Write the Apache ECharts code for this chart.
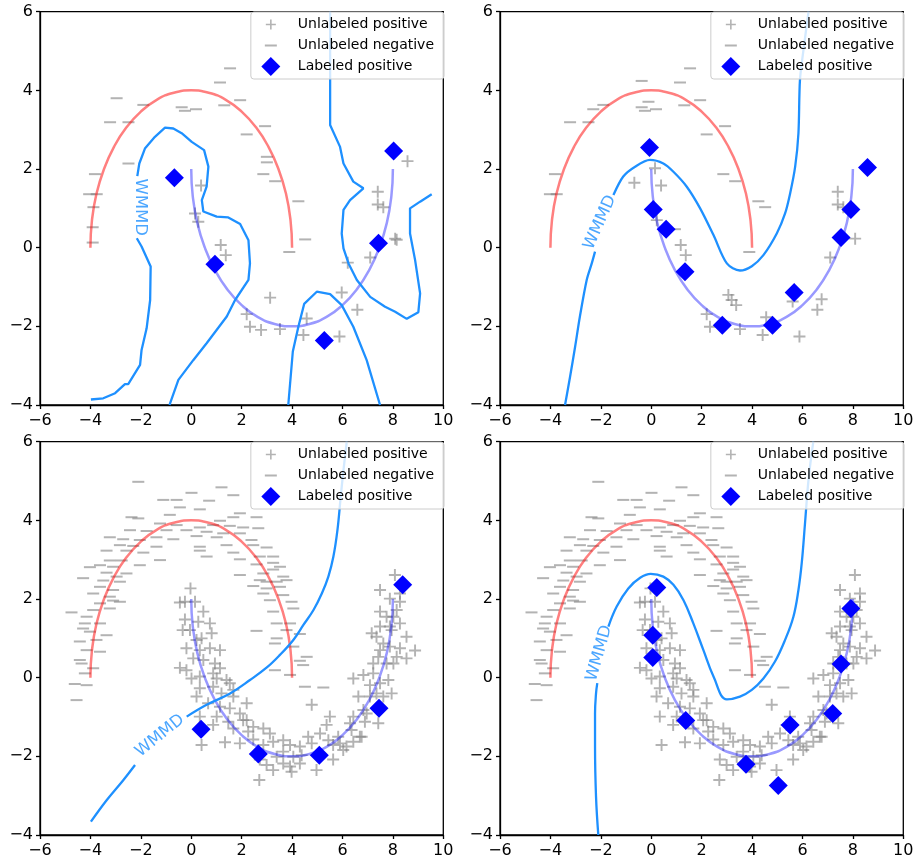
<!DOCTYPE html>
<html>
<head>
<meta charset="utf-8">
<script src="https://cdn.jsdelivr.net/npm/echarts@6/dist/echarts.min.js"></script>
<style>
  html, body { margin: 0; padding: 0; background: #fff; }
  #chart { width: 918px; height: 863px; }
</style>
</head>
<body>
<div id="chart"></div>
<script>
// the two ideal half moons (same in every panel)
const upperMoon = [[-4,0],[-3.94,0.69],[-3.76,1.37],[-3.46,2],[-3.06,2.57],[-2.57,3.06],[-2,3.46],[-1.37,3.76],[-0.69,3.94],[0,4],
  [0.69,3.94],[1.37,3.76],[2,3.46],[2.57,3.06],[3.06,2.57],[3.46,2],[3.76,1.37],[3.94,0.69],[4,0]];
const lowerMoon = [[0,2],[0.06,1.31],[0.24,0.63],[0.54,0],[0.94,-0.57],[1.43,-1.06],[2,-1.46],[2.63,-1.76],[3.31,-1.94],[4,-2],
  [4.69,-1.94],[5.37,-1.76],[6,-1.46],[6.57,-1.06],[7.06,-0.57],[7.46,0],[7.76,0.63],[7.94,1.31],[8,2]];

// top left
const tlPlus = [[8.58,2.20],[7.40,1.42],[7.40,1.10],[7.62,1.03],[8.09,0.23],[8.15,0.20],[0.39,1.58],[0.15,0.87],[0.28,0.66],
  [1.17,0.07],[1.37,-0.19],[7.10,-0.25],[6.21,-0.38],[3.13,-1.27],[5.97,-1.14],[6.59,-1.58],[2.20,-1.69],[4.58,-1.80],
  [2.33,-2.01],[2.77,-2.09],[3.52,-2.07],[4.45,-2.22],[5.88,-2.26]];
const tlMinus = [[1.54,4.56],[1.14,4.20],[-2.96,3.80],[-1.90,3.63],[-0.38,3.57],[-0.25,3.48],[0.19,3.52],[1.31,3.62],[1.94,3.75],
  [-3.22,3.19],[-2.49,3.19],[2.93,3.09],[2.20,2.88],[-2.49,2.14],[3.0,2.31],[3.0,2.17],[2.86,1.87],[3.33,1.69],[-3.82,1.87],
  [-4.05,1.36],[-3.75,1.36],[-3.88,1.03],[-3.91,0.52],[-3.91,0.13],[4.25,1.18],[4.52,0.21],[3.89,-0.11]];
const tlLabeled = [[-0.67,1.78],[0.94,-0.42],[8.03,2.46],[7.43,0.11],[5.28,-2.36]];
const tlContours = [
  [[-2.16,0.24],[-1.97,0.03],[-1.61,-0.48],[-1.63,-1.33],[-1.77,-2.05],[-1.97,-2.60],[-2.03,-2.98],[-2.50,-3.47],[-2.63,-3.47],
   [-3.02,-3.70],[-3.49,-3.83],[-3.98,-3.86]],
  [[-2.14,1.82],[-2.06,2.14],[-1.83,2.53],[-1.44,2.82],[-1.04,3.05],[-0.71,3.03],[-0.38,2.91],[0.02,2.69],[0.51,2.48],[0.68,2.06],
   [0.61,1.55],[0.42,1.21],[0.48,0.92],[1.01,0.79],[1.47,0.77],[1.94,0.60],[2.27,0.19],[2.33,-0.40],[2.27,-0.82],[1.74,-1.33],
   [1.41,-1.75],[0.61,-2.43],[0.08,-2.86],[-0.51,-3.36],[-0.84,-3.96],[-0.86,-4]],
  [[5.51,6],[5.51,4.26],[5.51,3.12],[5.90,2.57],[6.04,2.14],[6.43,1.68],[6.83,1.51],[6.30,1.21],[6.04,0.96],[5.97,0.36],
   [6.04,-0.02],[6.24,-0.40],[6.57,-0.82],[7.10,-1.25],[7.69,-1.50],[8.09,-1.63],[8.55,-1.81],[9.01,-1.64],[9.08,-1.16],
   [8.88,-0.31],[8.68,0.36],[8.68,1.0],[9.08,1.17],[9.54,1.36]],
  [[3.85,-4],[4.03,-2.64],[4.25,-2.01],[4.48,-1.43],[4.98,-1.12],[5.51,-1.18],[5.97,-1.46],[6.43,-2.01],[6.96,-2.86],[7.49,-4]]
];
const tlLabelPos = [-2.01, 1.03];

// top right
const trPlus = [[0.15,2.02],[-0.67,1.65],[0.39,1.58],[7.40,1.42],[7.40,1.10],[7.62,1.03],[8.09,0.23],[0.22,0.70],[1.17,0.07],
  [1.37,-0.19],[7.10,-0.25],[3.06,-1.20],[3.19,-1.33],[3.37,-1.46],[6.76,-1.31],[6.59,-1.58],[5.61,-1.37],[2.20,-1.69],
  [4.56,-1.77],[2.33,-2.01],[3.52,-2.07],[4.42,-2.22],[5.88,-2.26]];
const trMinus = [[1.54,4.56],[-0.38,4.24],[1.14,4.20],[-0.11,3.71],[-2.30,3.52],[-1.90,3.63],[-0.38,3.57],[-0.25,3.48],[0.19,3.52],
  [1.31,3.62],[1.94,3.75],[-3.22,3.19],[-2.49,3.19],[2.93,3.09],[2.20,2.88],[2.86,1.87],[3.33,1.69],[-3.82,1.87],[-4.02,1.36],
  [-3.75,1.36],[4.25,1.18],[4.52,1.03],[3.89,-0.11],[0.94,0.47]];
const trLabeled = [[-0.07,2.55],[0.08,0.97],[0.59,0.47],[1.34,-0.61],[2.82,-1.97],[4.81,-1.97],[5.67,-1.14],[7.53,0.26],[7.92,0.97],[8.58,2.04]];
const trContours = [
  [[-3.42,-4],[-3.22,-3.28],[-3.02,-2.52],[-2.83,-1.75],[-2.56,-0.82],[-2.36,-0.40],[-2.23,-0.10]],
  [[-1.50,1.34],[-1.11,1.81],[-0.64,2.06],[-0.05,2.23],[0.48,2.14],[0.88,1.93],[1.41,1.55],[1.94,1.0],[2.47,0.32],[3.0,-0.40],
   [3.52,-0.58],[3.99,-0.47],[4.45,-0.19],[4.98,0.36],[5.31,0.87],[5.51,1.38],[5.71,2.06],[5.84,2.91],[5.90,4.26],[6.04,5.03],[6.24,6]]
];
const trLabelPos = [-2.03, 0.64];

// bottom row: same unlabeled sample in both panels
const bottomPlus = [[-0.03,2.27],[-0.25,1.93],[-0.45,1.91],[0.15,1.93],[0.48,1.68],[-0.25,1.48],[0.28,1.42],[-0.05,1.21],[0.74,1.38],
  [0.81,1.13],[-0.34,1.21],[0.21,0.96],[0.41,1.0],[-0.19,0.75],[0.34,0.70],[0.74,0.75],[1.14,0.70],[0.08,0.49],[0.48,0.45],
  [-0.45,0.25],[0.94,0.36],[1.14,0.24],[0.01,-0.02],[0.34,0.03],[1.01,-0.02],[1.40,-0.06],[1.53,-0.14],[0.34,-0.27],[0.87,-0.23],
  [1.20,-0.40],[1.67,-0.48],[2.20,-0.65],[0.21,-0.48],[0.67,-0.65],[1.14,-0.74],[1.53,-0.78],[1.93,-0.91],[1.01,-0.99],[0.34,-0.99],
  [1.47,-1.12],[2.06,-1.08],[2.46,-1.25],[0.87,-1.20],[1.67,-1.29],[2.26,-1.37],[2.86,-1.29],[1.34,-1.64],[1.93,-1.67],[2.46,-1.57],
  [2.86,-1.71],[0.41,-1.71],[2.72,-2.08],[2.99,-2.22],[3.25,-2.35],[3.65,-2.18],[3.92,-2.26],[3.98,-2.39],[4.97,-2.35],[2.70,-2.60],
  [3.25,-1.63],[3.65,-1.59],[3.92,-1.71],[4.31,-1.75],[4.64,-1.50],[5.11,-1.42],[5.44,-1.59],[5.63,-1.71],[5.90,-1.67],[6.16,-1.75],
  [6.43,-1.63],[6.69,-1.50],[3.65,-1.88],[4.05,-2.01],[4.78,-1.67],[4.38,-1.97],[5.50,-0.99],[6.30,-1.16],[4.78,-0.69],[5.37,-1.20],
  [6.03,-1.84],[6.43,-0.99],[6.83,-0.82],[6.63,-0.48],[7.09,-0.48],[7.35,-0.40],[7.62,-0.48],[7.95,-0.40],[6.43,-0.02],[6.83,0.07],
  [7.22,0.11],[7.09,-0.19],[7.49,-0.14],[7.82,-0.06],[7.22,0.36],[7.42,0.53],[7.75,0.36],[8.02,0.36],[8.15,0.53],[7.49,0.70],
  [7.88,0.79],[8.28,0.75],[8.54,0.49],[8.88,0.69],[8.54,1.04],[7.16,1.13],[7.49,1.30],[7.88,1.30],[8.28,1.38],[7.49,1.68],
  [8.15,1.72],[7.75,1.55],[8.28,1.93],[7.49,2.23],[8.08,2.61],[8.28,2.14],[7.88,2.01],[6.89,-1.12],[7.42,-1.16],[6.36,-1.33],
  [6.76,-1.50],[-0.19,0.19],[0.87,0.11],[1.67,-0.31],[2.20,-1.08],[3.12,-1.42],[3.39,-2.01],[4.31,-2.18],[5.63,-2.08],[5.83,-1.50],
  [6.96,-0.91],[7.62,0.87],[7.35,1.04],[7.95,1.21],[8.02,1.55]];
const bottomMinus = [[-2.10,4.98],[1.20,4.84],[0.01,4.70],[-1.11,4.52],[-0.58,4.52],[0.71,4.50],[1.67,4.64],[-0.45,4.33],[0.34,4.28],
  [-2.37,4.08],[-2.10,4.05],[1.14,3.99],[1.67,4.08],[2.59,4.08],[-1.24,3.92],[-0.58,3.88],[0.34,3.82],[0.87,3.88],[1.53,3.86],
  [2.06,3.82],[2.66,3.80],[-2.43,3.75],[-1.77,3.73],[-0.98,3.75],[-0.19,3.75],[0.61,3.71],[1.27,3.67],[1.93,3.67],[-3.23,3.57],
  [-2.70,3.52],[-2.04,3.50],[-1.38,3.57],[-0.71,3.52],[0.21,3.60],[1.01,3.57],[2.39,3.50],[-2.83,3.37],[-2.30,3.35],[-1.38,3.33],
  [0.34,3.33],[1.40,3.37],[2.46,3.37],[2.99,3.31],[-3.36,3.23],[-2.57,3.23],[-1.90,3.18],[0.34,3.23],[1.67,3.18],[2.72,3.08],
  [3.25,3.08],[-3.23,2.98],[-2.76,2.98],[-1.24,2.99],[0.61,3.08],[1.93,3.01],[3.25,2.92],[-3.62,2.86],[-3.10,2.82],[-2.04,2.86],
  [2.59,2.88],[3.52,2.82],[-4.02,2.81],[-3.36,2.67],[-2.57,2.65],[1.93,2.61],[2.86,2.65],[3.65,2.57],[-4.29,2.53],[-3.49,2.47],
  [-2.83,2.44],[2.72,2.48],[3.39,2.44],[3.78,2.48],[-3.62,2.31],[-3.10,2.23],[2.46,2.33],[2.99,2.27],[3.52,2.31],[-3.89,2.14],
  [-3.23,2.06],[2.86,2.14],[3.65,2.10],[3.98,1.93],[-3.10,1.96],[-2.83,1.93],[3.12,1.97],[-4.75,1.66],[-3.89,1.72],[-3.23,1.76],
  [3.25,1.68],[4.05,1.76],[-4.22,1.38],[-3.62,1.38],[-4.29,1.25],[2.59,1.19],[3.39,1.38],[3.92,1.38],[3.78,1.21],[-4.02,1.17],
  [-3.36,1.08],[3.39,1.0],[4.31,1.11],[-4.42,0.92],[-3.76,0.96],[3.32,0.87],[4.05,0.79],[-4.15,0.70],[-3.62,0.66],[4.58,0.53],
  [4.31,0.43],[-4.35,0.36],[-3.89,0.24],[3.32,0.19],[4.44,0.32],[-4.22,0.11],[3.92,0.07],[-4.62,-0.16],[-4.15,-0.19],[4.51,-0.23],
  [5.24,-0.25],[-4.55,-0.57],[-3.62,1.89],[-4.15,1.55],[-2.96,2.57],[-4.42,0.45],[1.93,4.18],[-0.85,4.14],[3.25,2.75],[2.99,2.44]];

// bottom left
const blLabeled = [[0.39,-1.31],[2.66,-1.94],[5.08,-1.97],[7.45,-0.78],[8.39,2.36]];
const blContours = [
  [[-3.98,-3.66],[-3.35,-3.11],[-2.69,-2.60],[-2.23,-2.22]],
  [[-0.18,-0.99],[0.61,-0.69],[1.54,-0.40],[2.33,-0.06],[3.0,0.26],[3.52,0.58],[4.05,0.96],[4.45,1.34],[4.85,1.72],[5.18,2.14],
   [5.44,2.57],[5.64,3.08],[5.80,3.75],[5.93,4.60],[6.04,5.28],[6.17,6]]
];
const blLabelPos = [-1.24, -1.48];

// bottom right
const brLabeled = [[0.22,2.29],[0.06,1.08],[0.06,0.51],[1.37,-1.09],[3.76,-2.20],[5.04,-2.74],[5.51,-1.20],[7.20,-0.91],[7.53,0.35],[7.92,1.76]];
const brContours = [
  [[-2.10,-4],[-2.19,-3.03],[-2.23,-1.75],[-2.23,-0.91],[-2.19,-0.40],[-2.14,-0.14]],
  [[-1.70,1.30],[-1.37,1.81],[-0.91,2.27],[-0.44,2.54],[-0.02,2.64],[0.48,2.57],[0.88,2.36],[1.28,1.97],[1.67,1.38],[2.07,0.70],
   [2.47,0.03],[3.0,-0.55],[3.52,-0.48],[3.99,-0.31],[4.45,-0.02],[4.91,0.41],[5.31,0.96],[5.64,1.55],[5.84,2.23],[5.97,2.91],
   [6.10,3.92],[6.24,5.03],[6.43,6]]
];
const brLabelPos = [-2.06, 0.62];

const FONT = "DejaVu Sans";
const GRAY = "rgba(128,128,128,0.6)";
const WMMD_BLUE = "#1e90ff";

// marker shapes
const plusSymbol = "path://M4.2,0H5.8V4.2H10V5.8H5.8V10H4.2V5.8H0V4.2H4.2Z";
const plusIcon = "path://M0,0M32,19M9.2,4.5H10.8V8.7H15V10.3H10.8V14.5H9.2V10.3H5V8.7H9.2Z";
const minusIcon = "path://M0,0M32,19M4,8.5H16V10.5H4Z";
const diamondIcon = "path://M0,0M32,19M10,0L19.5,9.5L10,19L0.5,9.5Z";

const panels = [
  { grid: { left: 40, top: 11.7, width: 403.3, height: 393.3 }, legend: { right: 474, top: 12 },
    plus: tlPlus, minus: tlMinus, labeled: tlLabeled, contours: tlContours, labelPos: tlLabelPos, labelRot: -90, smooth: false },
  { grid: { left: 500, top: 11.7, width: 403.3, height: 393.3 }, legend: { right: 14, top: 12 },
    plus: trPlus, minus: trMinus, labeled: trLabeled, contours: trContours, labelPos: trLabelPos, labelRot: 66, smooth: 0.3 },
  { grid: { left: 40, top: 441.7, width: 403.3, height: 393.3 }, legend: { right: 474, top: 442 },
    plus: bottomPlus, minus: bottomMinus, labeled: blLabeled, contours: blContours, labelPos: blLabelPos, labelRot: 39, smooth: 0.4 },
  { grid: { left: 500, top: 441.7, width: 403.3, height: 393.3 }, legend: { right: 14, top: 442 },
    plus: bottomPlus, minus: bottomMinus, labeled: brLabeled, contours: brContours, labelPos: brLabelPos, labelRot: 74, smooth: 0.4 }
];

const minusFmt = v => String(v).replace("-", "\u2212");
const axisCommon = {
  type: "value",
  splitLine: { show: false },
  axisLine: { show: true, onZero: false, lineStyle: { color: "#000", width: 1.3 } },
  axisTick: { show: true, length: 4, lineStyle: { color: "#000", width: 1.3 } },
  axisLabel: { color: "#000", fontSize: 16, fontFamily: FONT, formatter: minusFmt }
};

const grids = [], xAxes = [], yAxes = [], legends = [], series = [];
panels.forEach((p, i) => {
  grids.push(Object.assign({ show: true, borderColor: "#000", borderWidth: 1.3, containLabel: false }, p.grid));
  xAxes.push(Object.assign({}, axisCommon, { gridIndex: i, min: -6, max: 10, interval: 2,
    axisLabel: Object.assign({}, axisCommon.axisLabel, { margin: 8 }) }));
  yAxes.push(Object.assign({}, axisCommon, { gridIndex: i, min: -4, max: 6, interval: 2,
    axisLabel: Object.assign({}, axisCommon.axisLabel, { margin: 7 }) }));
  legends.push({
    right: p.legend.right, top: p.legend.top, orient: "vertical", selectedMode: false, z: 20,
    itemWidth: 32, itemHeight: 19, itemGap: 2, padding: [3, 10, 3, 10],
    backgroundColor: "rgba(255,255,255,0.8)", borderColor: "#cccccc", borderWidth: 1, borderRadius: 3,
    textStyle: { fontSize: 14, fontFamily: FONT, color: "#000" },
    data: [
      { name: "Unlabeled positive", icon: plusIcon },
      { name: "Unlabeled negative", icon: minusIcon },
      { name: "Labeled positive", icon: diamondIcon }
    ]
  });
  const ax = { xAxisIndex: i, yAxisIndex: i };
  series.push(Object.assign({ type: "scatter", name: "Unlabeled positive", data: p.plus, symbol: plusSymbol,
    symbolSize: 12, itemStyle: { color: GRAY, opacity: 1 }, z: 2, silent: true }, ax));
  series.push(Object.assign({ type: "scatter", name: "Unlabeled negative", data: p.minus, symbol: "rect",
    symbolSize: [12, 2], itemStyle: { color: GRAY, opacity: 1 }, z: 2, silent: true }, ax));
  series.push(Object.assign({ type: "line", name: "upper moon", data: upperMoon, smooth: true, showSymbol: false,
    lineStyle: { color: "rgba(255,0,0,0.5)", width: 2.5 }, z: 3, silent: true }, ax));
  series.push(Object.assign({ type: "line", name: "lower moon", data: lowerMoon, smooth: true, showSymbol: false,
    lineStyle: { color: "rgba(0,0,255,0.4)", width: 2.5 }, z: 3, silent: true }, ax));
  p.contours.forEach(c => {
    series.push(Object.assign({ type: "line", name: "WMMD", data: c, smooth: p.smooth, showSymbol: false,
      lineStyle: { color: WMMD_BLUE, width: 2.3 }, z: 4, silent: true }, ax));
  });
  series.push(Object.assign({ type: "scatter", name: "WMMD label", data: [p.labelPos], symbolSize: 1,
    itemStyle: { color: "transparent" }, z: 4, silent: true,
    label: { show: true, position: "inside", formatter: "WMMD", rotate: p.labelRot,
      color: WMMD_BLUE, fontSize: 16.5, fontFamily: FONT } }, ax));
  series.push(Object.assign({ type: "scatter", name: "Labeled positive", data: p.labeled, symbol: "diamond",
    symbolSize: 19, itemStyle: { color: "#0000ff", opacity: 1 }, z: 5, silent: true }, ax));
});

const chart = echarts.init(document.getElementById("chart"), null, { renderer: "canvas" });
chart.setOption({
  animation: false,
  backgroundColor: "#fff",
  grid: grids,
  xAxis: xAxes,
  yAxis: yAxes,
  legend: legends,
  series: series
});
</script>
</body>
</html>
